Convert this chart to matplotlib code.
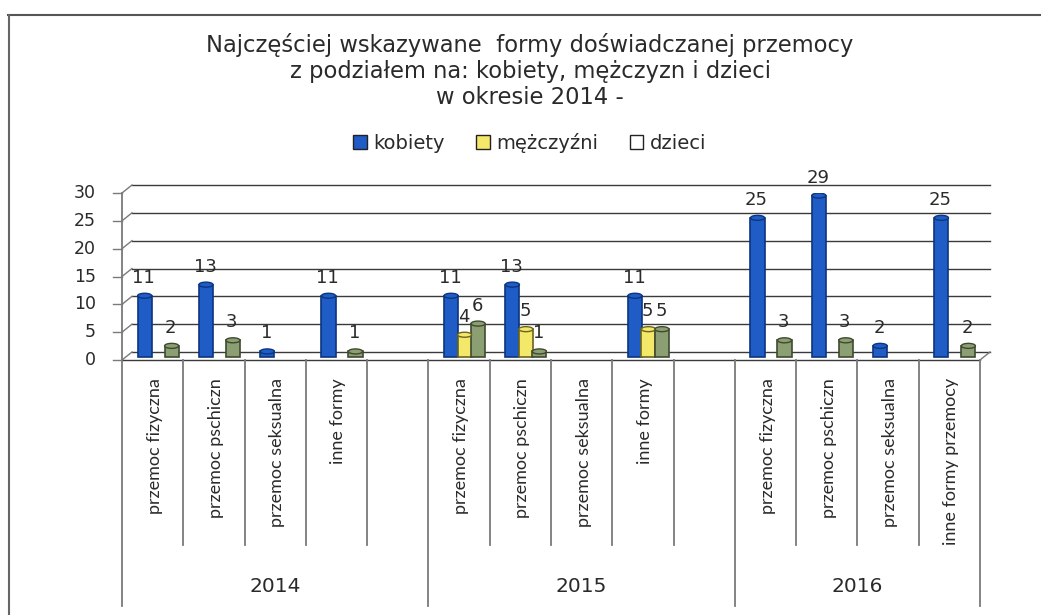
import numpy as np
import matplotlib
matplotlib.use("Agg")
import matplotlib.pyplot as plt
from matplotlib import transforms as mtransforms
from matplotlib.patches import Patch, Ellipse
from matplotlib.lines import Line2D

# ---------------- data ----------------
title_lines = ["Najczęściej wskazywane  formy doświadczanej przemocy",
               "z podziałem na: kobiety, mężczyzn i dzieci",
               "w okresie 2014 -"]
years = ["2014", "2015", "2016"]
group_sizes = [5, 5, 4]
categories = ["przemoc fizyczna", "przemoc pschiczn", "przemoc seksualna", "inne formy", "",
              "przemoc fizyczna", "przemoc pschiczn", "przemoc seksualna", "inne formy", "",
              "przemoc fizyczna", "przemoc pschiczn", "przemoc seksualna", "inne formy przemocy"]
series_names = ["kobiety", "mężczyźni", "dzieci"]
nan = np.nan
kobiety = [11, 13, 1, 11, nan, 11, 13, nan, 11, nan, 25, 29, 2, 25]
mezczyzni = [nan, nan, nan, nan, nan, 4, 5, nan, 5, nan, nan, nan, nan, nan]
dzieci = [2, 3, nan, 1, nan, 6, 1, nan, 5, nan, 3, 3, nan, 2]
y_ticks = [0, 5, 10, 15, 20, 25, 30]

# ---------------- style ----------------
colors = ["#1f5cc6", "#f3e86a", "#8c9f72"]
edge_colors = ["#0c3580", "#6b6420", "#3f4a30"]
legend_faces = ["#1f5cc6", "#f3e86a", "#ffffff"]
series_pos = [0.37, 0.59, 0.81]
bar_w = 0.23
W, H = 1041, 615
FONT = "DejaVu Sans"
LAB_FONT = "Lato"
txt_col = "#2a2a2a"
grid_col = "#3a3a3a"
axis_col = "#7a7a7a"

fig = plt.figure(figsize=(W / 100, H / 100), dpi=100)
fig.patch.set_facecolor("white")

px_left, px_right, px_bottom, px_top = 122, 980, 360, 193
ax = fig.add_axes([px_left / W, (H - px_bottom) / H,
                   (px_right - px_left) / W, (px_bottom - px_top) / H])
n = len(categories)
ax.set_xlim(0, n)
ax.set_ylim(0, 30)
ax.axis("off")

slot_px = (px_right - px_left) / n
unit_px = (px_bottom - px_top) / 30
dx, dy = 10, 8
back = mtransforms.offset_copy(ax.transData, fig=fig, x=dx, y=dy, units="dots")

# back wall gridlines, side diagonals, ticks
for v in y_ticks:
    ax.plot([0, n], [v, v], color=grid_col, lw=1.0, transform=back, clip_on=False, zorder=1)
    ax.plot([0, dx / slot_px], [v, v + dy / unit_px], color=axis_col, lw=1.0,
            clip_on=False, zorder=1)
    ax.plot([-9 / slot_px, 0], [v, v], color=axis_col, lw=1.0, clip_on=False, zorder=1)
    ax.text(-26 / slot_px, v, str(v), ha="right", va="center", fontsize=12.5,
            family=FONT, color=txt_col, clip_on=False)
# floor
ax.plot([0, n], [0, 0], color=grid_col, lw=1.0, clip_on=False, zorder=1)
ax.plot([n, n + dx / slot_px], [0, dy / unit_px], color=axis_col, lw=1.0, clip_on=False, zorder=1)
# front y axis
ax.plot([0, 0], [0, 30], color=axis_col, lw=1.3, clip_on=False, zorder=1)

# bars
bar_tr = mtransforms.offset_copy(ax.transData, fig=fig, x=0, y=3, units="dots")
lab_tr = mtransforms.offset_copy(ax.transData, fig=fig, x=-1, y=12, units="dots")
xs = np.arange(n)
for vals, p, c, ec in zip([kobiety, mezczyzni, dzieci], series_pos, colors, edge_colors):
    vals = np.array(vals, dtype=float)
    ok = ~np.isnan(vals)
    ax.bar(xs[ok] + p, vals[ok], width=bar_w, color=c, edgecolor=ec,
           linewidth=1.2, transform=bar_tr, zorder=3)
    for x, v in zip(xs[ok], vals[ok]):
        ax.add_patch(Ellipse((x + p, v), bar_w, 0.9, facecolor=c, edgecolor=ec,
                             lw=1.0, transform=bar_tr, zorder=4))
        ax.text(x + p, v, f"{int(v)}", ha="center", va="bottom", fontsize=13,
                family=FONT, color=txt_col, transform=lab_tr, zorder=5)

# category axis area
xa = ax.get_xaxis_transform()
minor_bottom = -(545 - px_bottom) / (px_bottom - px_top)
major_bottom = -(606 - px_bottom) / (px_bottom - px_top)
year_y = -(587 - px_bottom) / (px_bottom - px_top)
boundaries = np.concatenate([[0], np.cumsum(group_sizes)])
for b in range(n + 1):
    bottom = major_bottom if b in boundaries else minor_bottom
    ax.plot([b, b], [0, bottom], color=axis_col, lw=1.3, transform=xa, clip_on=False)
cat_tr = mtransforms.offset_copy(ax.transData, fig=fig, x=2, y=-18, units="dots")
for i, lab in enumerate(categories):
    if lab:
        ax.text(i + 0.5, 0, lab, rotation=90, ha="center", va="top", fontsize=13,
                family=LAB_FONT, color=txt_col, transform=cat_tr, clip_on=False)
for g, yr in enumerate(years):
    cx = (boundaries[g] + boundaries[g + 1]) / 2
    ax.text(cx, year_y, yr, ha="center", va="center", fontsize=14.5, family=FONT,
            color=txt_col, transform=xa, clip_on=False)

# title
for k, line in enumerate(title_lines):
    fig.text(530 / W, 1 - (45 + 26.5 * k) / H, line, ha="center", va="center",
             fontsize=16.3, family=FONT, color=txt_col)

# legend
handles = [Patch(facecolor=f, edgecolor="#222222", lw=1.0) for f in legend_faces]
leg = fig.legend(handles, series_names, loc="center", bbox_to_anchor=(530 / W, 1 - 143 / H),
                 ncol=3, frameon=False, prop={"family": FONT, "size": 14},
                 handlelength=0.7, handleheight=0.7, handletextpad=0.35,
                 columnspacing=1.6, labelcolor=txt_col)

# outer frame (top and left)
fig.add_artist(Line2D([8 / W, 1040 / W], [1 - 15 / H, 1 - 15 / H], color="#555555", lw=1.5))
fig.add_artist(Line2D([9 / W, 9 / W], [1 - 15 / H, 0], color="#666666", lw=1.5))

fig.savefig("out.png", dpi=100, facecolor="white")
